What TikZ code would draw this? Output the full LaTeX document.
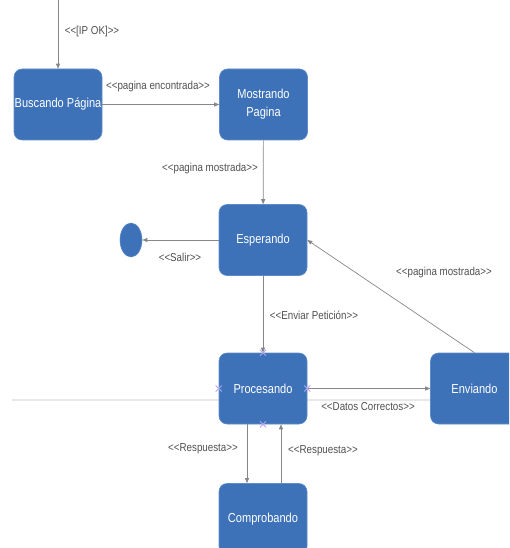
\documentclass[tikz,border=0pt]{standalone}
\usepackage{fontspec}
\setmainfont{Liberation Sans}[FakeStretch=0.85, Ligatures=TeXOff]
\usetikzlibrary{arrows.meta,shapes.geometric}
\definecolor{stateblue}{RGB}{62,114,184}
\definecolor{stateedge}{RGB}{95,140,200}
\definecolor{edgegray}{RGB}{135,135,135}
\definecolor{labelgray}{RGB}{80,80,80}
\definecolor{guidegray}{RGB}{232,232,232}
\definecolor{anchorlav}{RGB}{175,165,240}
\begin{document}
\begin{tikzpicture}[x=1pt,y=-1pt,
  state/.style={draw=stateedge, line width=0.6pt, fill=stateblue, rounded corners=8pt,
    minimum width=88pt, minimum height=71pt, inner sep=0pt, align=center,
    text=white, font=\fontsize{13}{18}\selectfont},
  final/.style={ellipse, fill=stateblue, draw=stateedge, line width=0.6pt,
    minimum width=22pt, minimum height=34pt, inner sep=0pt},
  trans/.style={draw=edgegray, line width=0.7pt, -{Triangle[length=5pt,width=4pt]}},
  lbl/.style={text=labelgray, inner sep=1pt, font=\fontsize{11.5}{13}\selectfont},
  anchorx/.style={draw=anchorlav, line width=0.8pt}
]
\useasboundingbox (0,0) rectangle (509,548);
\clip (0,0) rectangle (509,548);

% faint guide line running behind the lower row
\draw[guidegray, line width=1.2pt] (12,400) -- (430,400);

% states
\node[state] (busca)     at (58,104.5)   {Buscando Página};
\node[state] (muestra)   at (263.5,104.5) {Mostrando\\Pagina};
\node[state] (espera)    at (263,240)    {Esperando};
\node[state] (procesa)   at (263,388.5)  {Procesando};
\node[state] (envia)     at (474.5,388.5) {Enviando};
\node[state] (comprueba) at (263,519)    {Comprobando};
\node[final] (fin)       at (131,240)    {};
\coordinate (inicio) at (58,0);

% transitions
\draw[trans] (inicio) -- (busca);
\draw[trans] (busca) -- (muestra);
\draw[trans] (muestra) -- (espera);
\draw[trans] (espera) -- (fin);
\draw[trans] (espera) -- (procesa);
\draw[trans] (procesa) -- (envia);
\draw[trans] (envia.north) -- (espera.east);
\draw[trans] ([xshift=-16pt]procesa.south) -- ([xshift=-16pt]comprueba.north);
\draw[trans] ([xshift=18pt]comprueba.north) -- ([xshift=18pt]procesa.south);

% transition labels
\node[lbl] (l1) at (92,32)   {<<[IP OK]>>};
\node[lbl] (l2) at (158,87)  {<<pagina encontrada>>};
\node[lbl] (l3) at (210,169) {<<pagina mostrada>>};
\node[lbl] (l4) at (180,257) {<<Salir>>};
\node[lbl] (l5) at (314,315) {<<Enviar Petición>>};
\node[lbl] (l6) at (368,407) {<<Datos Correctos>>};
\node[lbl] (l7) at (444,273) {<<pagina mostrada>>};
\node[lbl] (l8) at (203,449) {<<Respuesta>>};
\node[lbl] (l9) at (323,451) {<<Respuesta>>};

% connection handles on the selected state
\foreach \a in {north,south,east,west}{
  \draw[anchorx] ([shift={(-3pt,-3pt)}]procesa.\a) -- ([shift={(3pt,3pt)}]procesa.\a)
                 ([shift={(-3pt,3pt)}]procesa.\a) -- ([shift={(3pt,-3pt)}]procesa.\a);
}
\end{tikzpicture}
\end{document}
